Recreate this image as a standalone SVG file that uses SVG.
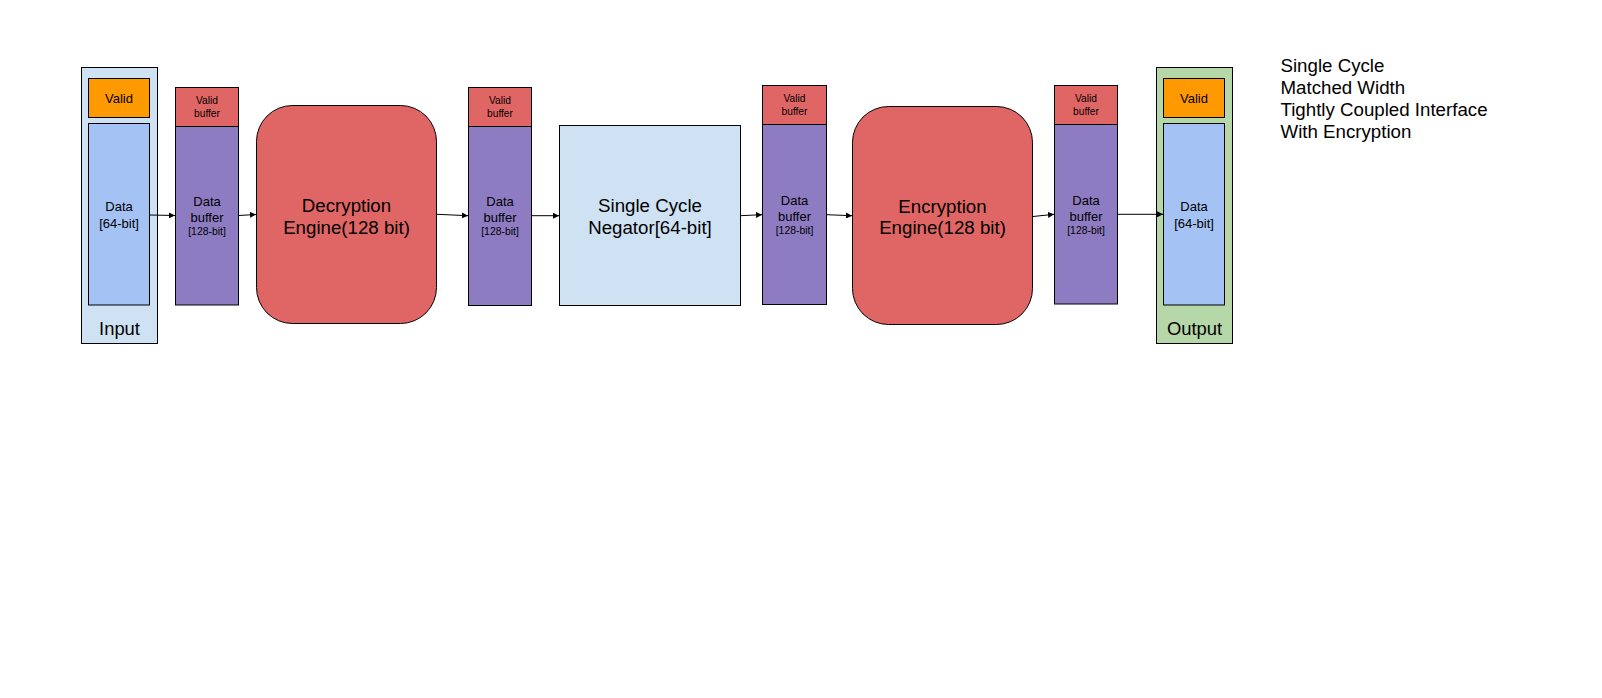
<svg xmlns="http://www.w3.org/2000/svg" width="1602" height="698" viewBox="0 0 1602 698">
<style>
text{font-family:"Liberation Sans",Arial,sans-serif;fill:#000;text-anchor:middle;dominant-baseline:central}
.box{stroke:#000;stroke-width:1}
.big{font-size:18.7px}
.med{font-size:13px}
.sm{font-size:10.2px}
.xs{font-size:10.4px}
.lbl{font-size:18.4px}
.leg{font-size:18.7px;text-anchor:start}
.conn{stroke:#000;stroke-width:1;fill:none;marker-end:url(#ah)}
</style>
<defs>
<marker id="ah" viewBox="0 0 10 10" refX="10" refY="5" markerWidth="6" markerHeight="6" markerUnits="userSpaceOnUse" orient="auto">
<path d="M0,0 L10,5 L0,10 z" fill="#000"/>
</marker>
</defs>
<rect width="1602" height="698" fill="#fff"/>

<g id="input">
<rect class="box" x="81.5" y="67.5" width="76" height="276" fill="#cfe2f3"/>
<rect class="box" x="88.5" y="78.5" width="61" height="39" fill="#ff9900"/>
<text class="med" x="119" y="98">Valid</text>
<rect class="box" x="88.5" y="123.5" width="61" height="181.5" fill="#a4c2f4"/>
<text class="med" x="119" y="206.5">Data</text>
<text class="med" x="119" y="223">[64-bit]</text>
<text class="lbl" x="119.5" y="328">Input</text>
</g>

<g id="buffer1">
<rect class="box" x="175.5" y="87.5" width="63" height="39" fill="#e06666"/>
<text class="sm" x="207" y="100.5">Valid</text>
<text class="sm" x="207" y="113.5">buffer</text>
<rect class="box" x="175.5" y="126.5" width="63" height="178.5" fill="#8e7cc3"/>
<text class="med" x="207" y="201.5">Data</text>
<text class="med" x="207" y="217.5">buffer</text>
<text class="xs" x="207" y="231.5">[128-bit]</text>
</g>

<g id="decryption">
<rect class="box" x="256.5" y="105.5" width="180" height="218" rx="36" ry="36" fill="#e06666"/>
<text class="big" x="346.5" y="205">Decryption</text>
<text class="big" x="346.5" y="227">Engine(128 bit)</text>
</g>

<g id="buffer2">
<rect class="box" x="468.5" y="87.5" width="63" height="39" fill="#e06666"/>
<text class="sm" x="500" y="100.5">Valid</text>
<text class="sm" x="500" y="113.5">buffer</text>
<rect class="box" x="468.5" y="126.5" width="63" height="179" fill="#8e7cc3"/>
<text class="med" x="500" y="201.5">Data</text>
<text class="med" x="500" y="217.5">buffer</text>
<text class="xs" x="500" y="231.5">[128-bit]</text>
</g>

<g id="negator">
<rect class="box" x="559.5" y="125.5" width="181" height="180" fill="#cfe2f3"/>
<text class="big" x="650" y="205.5">Single Cycle</text>
<text class="big" x="650" y="227.5">Negator[64-bit]</text>
</g>

<g id="buffer3">
<rect class="box" x="762.5" y="85.5" width="64" height="39" fill="#e06666"/>
<text class="sm" x="794.5" y="98.5">Valid</text>
<text class="sm" x="794.5" y="111.5">buffer</text>
<rect class="box" x="762.5" y="124.5" width="64" height="180" fill="#8e7cc3"/>
<text class="med" x="794.5" y="200.5">Data</text>
<text class="med" x="794.5" y="216.5">buffer</text>
<text class="xs" x="794.5" y="230.5">[128-bit]</text>
</g>

<g id="encryption">
<rect class="box" x="852.5" y="106.5" width="180" height="218" rx="36" ry="36" fill="#e06666"/>
<text class="big" x="942.5" y="206">Encryption</text>
<text class="big" x="942.5" y="227.5">Engine(128 bit)</text>
</g>

<g id="buffer4">
<rect class="box" x="1054.5" y="85.5" width="63" height="39" fill="#e06666"/>
<text class="sm" x="1086" y="98.5">Valid</text>
<text class="sm" x="1086" y="111.5">buffer</text>
<rect class="box" x="1054.5" y="124.5" width="63" height="179.5" fill="#8e7cc3"/>
<text class="med" x="1086" y="200.5">Data</text>
<text class="med" x="1086" y="216.5">buffer</text>
<text class="xs" x="1086" y="230.5">[128-bit]</text>
</g>

<g id="output">
<rect class="box" x="1156.5" y="67.5" width="76" height="276" fill="#b6d7a8"/>
<rect class="box" x="1163.5" y="78.5" width="61" height="39" fill="#ff9900"/>
<text class="med" x="1194" y="98">Valid</text>
<rect class="box" x="1163.5" y="123.5" width="61" height="181.5" fill="#a4c2f4"/>
<text class="med" x="1194" y="206.5">Data</text>
<text class="med" x="1194" y="223">[64-bit]</text>
<text class="lbl" x="1194.5" y="328">Output</text>
</g>

<g id="legend">
<text class="leg" x="1280.5" y="65.7">Single Cycle</text>
<text class="leg" x="1280.5" y="87.5">Matched Width</text>
<text class="leg" x="1280.5" y="109.2">Tightly Coupled Interface</text>
<text class="leg" x="1280.5" y="131">With Encryption</text>
</g>

<g id="connectors">
<path class="conn" d="M149.5,215 L175,215.5"/>
<path class="conn" d="M238.5,215.5 L256,214.5"/>
<path class="conn" d="M437,214.3 L468,215.7"/>
<path class="conn" d="M531.5,215.7 L559,215.7"/>
<path class="conn" d="M740.5,215.7 L762,214.7"/>
<path class="conn" d="M826.5,214.7 L852,215.7"/>
<path class="conn" d="M1033,216.5 L1054,214.3"/>
<path class="conn" d="M1117.5,214.3 L1163,214.3"/>
</g>
</svg>
